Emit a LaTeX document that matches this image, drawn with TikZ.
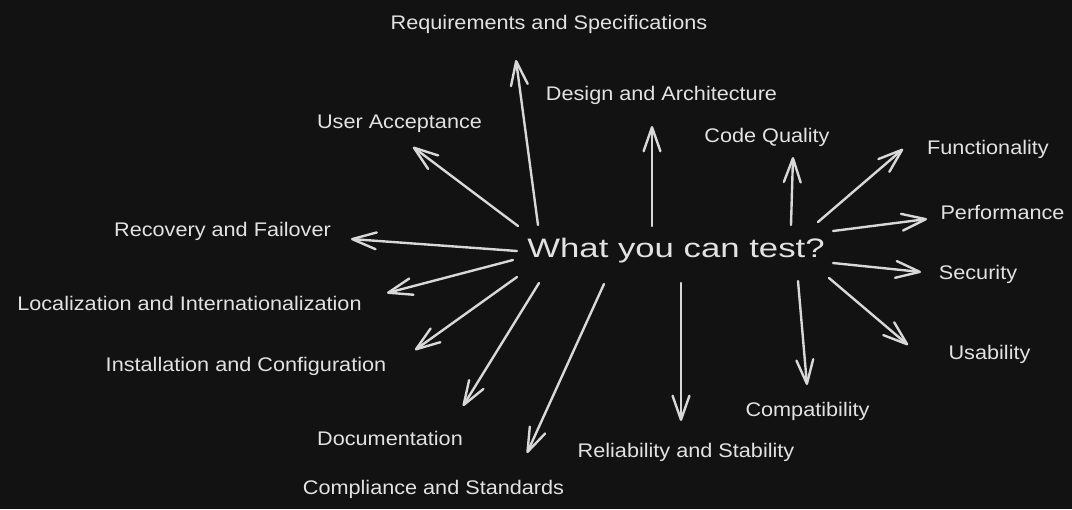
\documentclass[tikz,border=0pt]{standalone}
\usepackage{fontspec}
\usepackage{tikz}
\usetikzlibrary{arrows.meta,positioning}
\newfontfamily\handfont[FakeStretch=1.1]{Liberation Sans}
\newfontfamily\hubfont[FakeStretch=1.3]{Liberation Sans}
\definecolor{board}{HTML}{121212}
\definecolor{chalk}{HTML}{E2E2E2}
\definecolor{chalkline}{HTML}{D8D8D8}
\tikzstyle{spoke} = [chalkline, line width=1.7pt, line cap=round,
                     -{Straight Barb[length=6mm,width=4.2mm,round]}]

\begin{document}
\begin{tikzpicture}[
			x=0.025cm, y=-0.025cm,
			topic/.style={
					text=chalk,
					anchor=base,
					inner sep=0pt,
					font=\handfont\fontsize{14}{16}\selectfont
				},
			hubtext/.style={
					topic,
					font=\hubfont\fontsize{19}{22}\selectfont
				}
		]
		\fill[board] (0,0) rectangle (1072,509);
		\useasboundingbox (0,0) rectangle (1072,509);

		\node[hubtext] (hub) at (676,257) {What you can test?};

		\node[topic] (req) at (549,29) {Requirements and Specifications};
		\node[topic] (design) at (661.5,100) {Design and Architecture};
		\node[topic] (code) at (767,142) {Code Quality};
		\node[topic] (func) at (988,154) {Functionality};
		\node[topic] (perf) at (1002.5,219) {Performance};
		\node[topic] (sec) at (978,279) {Security};
		\node[topic] (usab) at (989.5,359) {Usability};
		\node[topic] (compat) at (807.5,416) {Compatibility};
		\node[topic] (rel) at (686,457) {Reliability and Stability};
		\node[topic] (compl) at (433.5,494) {Compliance and Standards};
		\node[topic] (doc) at (390,445) {Documentation};
		\node[topic] (inst) at (246,371) {Installation and Configuration};
		\node[topic] (loc) at (189.5,310) {Localization and Internationalization};
		\node[topic] (rec) at (222.5,236) {Recovery and Failover};
		\node[topic] (uat) at (399.5,128) {User Acceptance};

		% spokes: start near the hub, tip near the topic
		\foreach \n/\sx/\sy/\ex/\ey in {
				req/538/225/516/60, design/652/226/652/126, code/791/225/793/157,
				func/818/222/903/149, perf/833/231/927/219, sec/833/263/921/272,
				usab/829/278/908/345, compat/798/281/807/385, rel/681/283/681/421,
				compl/604/284/527/453, doc/539/283/463/406, inst/517/277/415/350,
				loc/513/260/387/293, rec/517/251/351/239, uat/518/226/413/147} {
				\coordinate (\n-s) at (\sx,\sy);
				\coordinate (\n-e) at (\ex,\ey);
				\draw[spoke] (\n-s) -- (\n-e);
			}
	\end{tikzpicture}
\end{document}
